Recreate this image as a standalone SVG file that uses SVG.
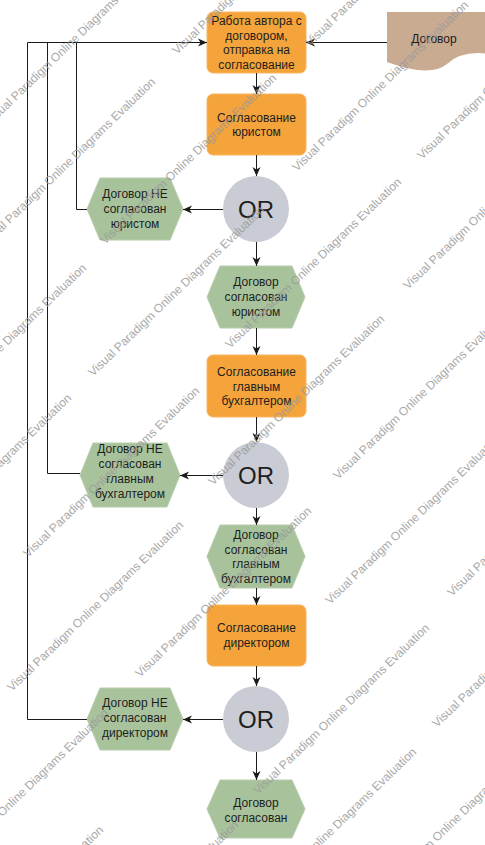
<svg xmlns="http://www.w3.org/2000/svg" xmlns:xlink="http://www.w3.org/1999/xlink" width="485" height="845" viewBox="0 0 485 845">
<style>
.box{fill:#f4a43b;stroke:#f7b662;stroke-width:1}
.hex{fill:#a8c39c;stroke:#b6cdab;stroke-width:1}
.or{fill:#c9ccd4}
.doc{fill:#c9ab92}
.t{font-family:"Liberation Sans",Arial,sans-serif;font-size:12px;fill:#1e1e1e;text-anchor:middle}
.ort{font-family:"Liberation Sans",Arial,sans-serif;font-size:24px;fill:#1e1e1e;text-anchor:middle}
.c{fill:none;stroke:#1a1a1a;stroke-width:1}
.wm{font-family:"Liberation Sans",Arial,sans-serif;font-size:12px;fill:#9a9a9a;opacity:0.85}
</style>
<defs>
<marker id="ah" markerUnits="userSpaceOnUse" markerWidth="10" markerHeight="10" refX="9" refY="4.5" orient="auto">
<path d="M0,0.5 L9,4.5 L0,8.5 L2.5,4.5 Z" fill="#1a1a1a"/>
</marker>
<text id="wm" class="wm" transform="rotate(-44)">Visual Paradigm Online Diagrams Evaluation</text>
</defs>
<rect width="485" height="845" fill="#fff"/>

<g id="doc">
<path class="doc" d="M387,12 H490 V54 Q462,50 447,64 Q430,78 387,62 Z"/>
<text class="t" x="434" y="43">Договор</text>
</g>

<g id="box1">
<rect class="box" x="207" y="12" width="99" height="61" rx="6"/>
<text class="t" x="256.5" y="25">Работа автора с</text>
<text class="t" x="256.5" y="39.5">договором,</text>
<text class="t" x="256.5" y="54">отправка на</text>
<text class="t" x="256.5" y="68.5">согласование</text>
</g>

<g id="box2">
<rect class="box" x="207" y="94" width="99" height="61" rx="6"/>
<text class="t" x="256.5" y="121.5">Согласование</text>
<text class="t" x="256.5" y="136">юристом</text>
</g>

<g id="or1">
<circle class="or" cx="256" cy="209" r="33"/>
<text class="ort" x="256" y="218">OR</text>
</g>

<g id="hexNotLawyer">
<polygon class="hex" points="100,178 170,178 183,209 170,240 100,240 87,209"/>
<text class="t" x="135" y="197.5">Договор НЕ</text>
<text class="t" x="135" y="212.5">согласован</text>
<text class="t" x="135" y="227.5">юристом</text>
</g>

<g id="hexLawyer">
<polygon class="hex" points="220,266 292,266 305,297 292,328 220,328 207,297"/>
<text class="t" x="256" y="286">Договор</text>
<text class="t" x="256" y="301">согласован</text>
<text class="t" x="256" y="316">юристом</text>
</g>

<g id="box3">
<rect class="box" x="207" y="355" width="99" height="62" rx="6"/>
<text class="t" x="256.5" y="376">Согласование</text>
<text class="t" x="256.5" y="390.5">главным</text>
<text class="t" x="256.5" y="405">бухгалтером</text>
</g>

<g id="or2">
<circle class="or" cx="256" cy="475" r="33"/>
<text class="ort" x="256" y="484">OR</text>
</g>

<g id="hexNotAccountant">
<polygon class="hex" points="93,443 167,443 180,475 167,507 93,507 80,475"/>
<text class="t" x="130" y="453">Договор НЕ</text>
<text class="t" x="130" y="468">согласован</text>
<text class="t" x="130" y="483">главным</text>
<text class="t" x="130" y="498">бухгалтером</text>
</g>

<g id="hexAccountant">
<polygon class="hex" points="220,525 292,525 305,556.5 292,588 220,588 207,556.5"/>
<text class="t" x="256" y="539">Договор</text>
<text class="t" x="256" y="553.5">согласован</text>
<text class="t" x="256" y="568">главным</text>
<text class="t" x="256" y="582.5">бухгалтером</text>
</g>

<g id="box4">
<rect class="box" x="207" y="605" width="99" height="61" rx="6"/>
<text class="t" x="256.5" y="632">Согласование</text>
<text class="t" x="256.5" y="646.5">директором</text>
</g>

<g id="or3">
<circle class="or" cx="256" cy="719" r="33"/>
<text class="ort" x="256" y="728">OR</text>
</g>

<g id="hexNotDirector">
<polygon class="hex" points="100,688 170,688 183,719 170,750 100,750 87,719"/>
<text class="t" x="135" y="707">Договор НЕ</text>
<text class="t" x="135" y="722">согласован</text>
<text class="t" x="135" y="737">директором</text>
</g>

<g id="hexApproved">
<polygon class="hex" points="220,780 292,780 305,809 292,838 220,838 207,809"/>
<text class="t" x="256" y="807">Договор</text>
<text class="t" x="256" y="822">согласован</text>
</g>

<g id="connectors">
<path class="c" d="M387,42.5 H306" marker-end="url(#ah)"/>
<path class="c" d="M87,209.5 H76.5 V42.5"/>
<path class="c" d="M80,473.5 H47.5 V42.5"/>
<path class="c" d="M87,719.5 H27.5 V42.5 H207" marker-end="url(#ah)"/>
<path class="c" d="M256.5,73 V94" marker-end="url(#ah)"/>
<path class="c" d="M256.5,155 V176" marker-end="url(#ah)"/>
<path class="c" d="M223,209.5 H183" marker-end="url(#ah)"/>
<path class="c" d="M256.5,242 V266" marker-end="url(#ah)"/>
<path class="c" d="M256.5,328 V355" marker-end="url(#ah)"/>
<path class="c" d="M256.5,417 V442" marker-end="url(#ah)"/>
<path class="c" d="M223,475.5 H180" marker-end="url(#ah)"/>
<path class="c" d="M256.5,508 V525" marker-end="url(#ah)"/>
<path class="c" d="M256.5,588 V605" marker-end="url(#ah)"/>
<path class="c" d="M256.5,666 V686" marker-end="url(#ah)"/>
<path class="c" d="M223,719.5 H183" marker-end="url(#ah)"/>
<path class="c" d="M256.5,752 V780" marker-end="url(#ah)"/>
</g>

<g id="watermarks">
<use xlink:href="#wm" transform="translate(-10,126)"/>
<use xlink:href="#wm" transform="translate(-16,249)"/>
<use xlink:href="#wm" transform="translate(177,55)"/>
<use xlink:href="#wm" transform="translate(310,47)"/>
<use xlink:href="#wm" transform="translate(105,245)"/>
<use xlink:href="#wm" transform="translate(297,172)"/>
<use xlink:href="#wm" transform="translate(422,160)"/>
<use xlink:href="#wm" transform="translate(230,349)"/>
<use xlink:href="#wm" transform="translate(93,377)"/>
<use xlink:href="#wm" transform="translate(408,290)"/>
<use xlink:href="#wm" transform="translate(338,480)"/>
<use xlink:href="#wm" transform="translate(213,486)"/>
<use xlink:href="#wm" transform="translate(-85,435)"/>
<use xlink:href="#wm" transform="translate(-100,565)"/>
<use xlink:href="#wm" transform="translate(28,558)"/>
<use xlink:href="#wm" transform="translate(12,692)"/>
<use xlink:href="#wm" transform="translate(140,678)"/>
<use xlink:href="#wm" transform="translate(330,605)"/>
<use xlink:href="#wm" transform="translate(452,597)"/>
<use xlink:href="#wm" transform="translate(258,795)"/>
<use xlink:href="#wm" transform="translate(437,728)"/>
<use xlink:href="#wm" transform="translate(245,919)"/>
<use xlink:href="#wm" transform="translate(372,905)"/>
<use xlink:href="#wm" transform="translate(-63,880)"/>
<use xlink:href="#wm" transform="translate(-68,997)"/>
<use xlink:href="#wm" transform="translate(67,992)"/>
</g>
</svg>
